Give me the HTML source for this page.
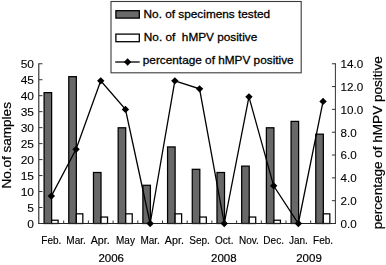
<!DOCTYPE html>
<html><head><meta charset="utf-8"><style>
html,body{margin:0;padding:0;background:#fff;}
svg{display:block;filter:blur(0.3px);}
text{font-family:"Liberation Sans",sans-serif;fill:#000;stroke:#000;stroke-width:0.3px;}
.t{font-size:11px;stroke-width:0.1px;}
.m{font-size:10px;stroke-width:0.15px;}
.y{font-size:11.5px;stroke-width:0.2px;}
.l{font-size:11.8px;}
.at{font-size:12px;stroke-width:0.2px;}
.at2{font-size:12px;stroke-width:0.2px;}
</style></head><body>
<svg width="386" height="265" viewBox="0 0 386 265">
<rect x="44.08" y="92.63" width="7.55" height="130.87" fill="#686868" stroke="#000" stroke-width="1.25"/>
<rect x="51.62" y="220.23" width="6.50" height="3.27" fill="#fff" stroke="#000" stroke-width="1.25"/>
<rect x="68.77" y="76.66" width="7.55" height="146.84" fill="#686868" stroke="#000" stroke-width="1.25"/>
<rect x="76.33" y="213.84" width="6.50" height="9.66" fill="#fff" stroke="#000" stroke-width="1.25"/>
<rect x="93.47" y="172.50" width="7.55" height="51.00" fill="#686868" stroke="#000" stroke-width="1.25"/>
<rect x="101.03" y="217.04" width="6.50" height="6.46" fill="#fff" stroke="#000" stroke-width="1.25"/>
<rect x="118.17" y="127.78" width="7.55" height="95.72" fill="#686868" stroke="#000" stroke-width="1.25"/>
<rect x="125.73" y="213.84" width="6.50" height="9.66" fill="#fff" stroke="#000" stroke-width="1.25"/>
<rect x="142.87" y="185.28" width="7.55" height="38.22" fill="#686868" stroke="#000" stroke-width="1.25"/>
<rect x="167.57" y="146.94" width="7.55" height="76.56" fill="#686868" stroke="#000" stroke-width="1.25"/>
<rect x="175.12" y="213.84" width="6.50" height="9.66" fill="#fff" stroke="#000" stroke-width="1.25"/>
<rect x="192.27" y="169.31" width="7.55" height="54.19" fill="#686868" stroke="#000" stroke-width="1.25"/>
<rect x="199.82" y="217.04" width="6.50" height="6.46" fill="#fff" stroke="#000" stroke-width="1.25"/>
<rect x="216.97" y="172.50" width="7.55" height="51.00" fill="#686868" stroke="#000" stroke-width="1.25"/>
<rect x="241.67" y="166.12" width="7.55" height="57.38" fill="#686868" stroke="#000" stroke-width="1.25"/>
<rect x="249.22" y="217.04" width="6.50" height="6.46" fill="#fff" stroke="#000" stroke-width="1.25"/>
<rect x="266.38" y="127.78" width="7.55" height="95.72" fill="#686868" stroke="#000" stroke-width="1.25"/>
<rect x="273.92" y="220.23" width="6.50" height="3.27" fill="#fff" stroke="#000" stroke-width="1.25"/>
<rect x="291.07" y="121.39" width="7.55" height="102.11" fill="#686868" stroke="#000" stroke-width="1.25"/>
<rect x="315.78" y="134.17" width="7.55" height="89.33" fill="#686868" stroke="#000" stroke-width="1.25"/>
<rect x="323.32" y="213.84" width="6.50" height="9.66" fill="#fff" stroke="#000" stroke-width="1.25"/>
<line x1="38.8" y1="63.25" x2="38.8" y2="223.5" stroke="#222" stroke-width="1.1"/>
<line x1="335.4" y1="63.25" x2="335.4" y2="223.5" stroke="#333" stroke-width="1"/>
<line x1="38.25" y1="223.5" x2="335.95" y2="223.5" stroke="#222" stroke-width="1.1"/>
<line x1="39.0" y1="223.50" x2="42.5" y2="223.50" stroke="#333" stroke-width="1"/>
<text transform="translate(34.00,227.80) scale(1.09,1)" text-anchor="end" class="t">0</text>
<line x1="39.0" y1="207.53" x2="42.5" y2="207.53" stroke="#333" stroke-width="1"/>
<text transform="translate(34.00,211.83) scale(1.09,1)" text-anchor="end" class="t">5</text>
<line x1="39.0" y1="191.55" x2="42.5" y2="191.55" stroke="#333" stroke-width="1"/>
<text transform="translate(34.00,195.85) scale(1.09,1)" text-anchor="end" class="t">10</text>
<line x1="39.0" y1="175.57" x2="42.5" y2="175.57" stroke="#333" stroke-width="1"/>
<text transform="translate(34.00,179.88) scale(1.09,1)" text-anchor="end" class="t">15</text>
<line x1="39.0" y1="159.60" x2="42.5" y2="159.60" stroke="#333" stroke-width="1"/>
<text transform="translate(34.00,163.90) scale(1.09,1)" text-anchor="end" class="t">20</text>
<line x1="39.0" y1="143.62" x2="42.5" y2="143.62" stroke="#333" stroke-width="1"/>
<text transform="translate(34.00,147.93) scale(1.09,1)" text-anchor="end" class="t">25</text>
<line x1="39.0" y1="127.65" x2="42.5" y2="127.65" stroke="#333" stroke-width="1"/>
<text transform="translate(34.00,131.95) scale(1.09,1)" text-anchor="end" class="t">30</text>
<line x1="39.0" y1="111.67" x2="42.5" y2="111.67" stroke="#333" stroke-width="1"/>
<text transform="translate(34.00,115.97) scale(1.09,1)" text-anchor="end" class="t">35</text>
<line x1="39.0" y1="95.70" x2="42.5" y2="95.70" stroke="#333" stroke-width="1"/>
<text transform="translate(34.00,100.00) scale(1.09,1)" text-anchor="end" class="t">40</text>
<line x1="39.0" y1="79.72" x2="42.5" y2="79.72" stroke="#333" stroke-width="1"/>
<text transform="translate(34.00,84.02) scale(1.09,1)" text-anchor="end" class="t">45</text>
<line x1="39.0" y1="63.75" x2="42.5" y2="63.75" stroke="#333" stroke-width="1"/>
<text transform="translate(34.00,68.05) scale(1.09,1)" text-anchor="end" class="t">50</text>
<line x1="331.9" y1="223.50" x2="335.4" y2="223.50" stroke="#333" stroke-width="1"/>
<text transform="translate(340.60,227.80) scale(1.06,1)" class="t">0.0</text>
<line x1="331.9" y1="200.68" x2="335.4" y2="200.68" stroke="#333" stroke-width="1"/>
<text transform="translate(340.60,204.98) scale(1.06,1)" class="t">2.0</text>
<line x1="331.9" y1="177.86" x2="335.4" y2="177.86" stroke="#333" stroke-width="1"/>
<text transform="translate(340.60,182.16) scale(1.06,1)" class="t">4.0</text>
<line x1="331.9" y1="155.04" x2="335.4" y2="155.04" stroke="#333" stroke-width="1"/>
<text transform="translate(340.60,159.34) scale(1.06,1)" class="t">6.0</text>
<line x1="331.9" y1="132.21" x2="335.4" y2="132.21" stroke="#333" stroke-width="1"/>
<text transform="translate(340.60,136.51) scale(1.06,1)" class="t">8.0</text>
<line x1="331.9" y1="109.39" x2="335.4" y2="109.39" stroke="#333" stroke-width="1"/>
<text transform="translate(340.60,113.69) scale(1.06,1)" class="t">10.0</text>
<line x1="331.9" y1="86.57" x2="335.4" y2="86.57" stroke="#333" stroke-width="1"/>
<text transform="translate(340.60,90.87) scale(1.06,1)" class="t">12.0</text>
<line x1="331.9" y1="63.75" x2="335.4" y2="63.75" stroke="#333" stroke-width="1"/>
<text transform="translate(340.60,68.05) scale(1.06,1)" class="t">14.0</text>
<line x1="63.70" y1="220.5" x2="63.70" y2="223.5" stroke="#333" stroke-width="1"/>
<line x1="88.40" y1="220.5" x2="88.40" y2="223.5" stroke="#333" stroke-width="1"/>
<line x1="113.10" y1="220.5" x2="113.10" y2="223.5" stroke="#333" stroke-width="1"/>
<line x1="137.80" y1="220.5" x2="137.80" y2="223.5" stroke="#333" stroke-width="1"/>
<line x1="162.50" y1="220.5" x2="162.50" y2="223.5" stroke="#333" stroke-width="1"/>
<line x1="187.20" y1="220.5" x2="187.20" y2="223.5" stroke="#333" stroke-width="1"/>
<line x1="211.90" y1="220.5" x2="211.90" y2="223.5" stroke="#333" stroke-width="1"/>
<line x1="236.60" y1="220.5" x2="236.60" y2="223.5" stroke="#333" stroke-width="1"/>
<line x1="261.30" y1="220.5" x2="261.30" y2="223.5" stroke="#333" stroke-width="1"/>
<line x1="286.00" y1="220.5" x2="286.00" y2="223.5" stroke="#333" stroke-width="1"/>
<line x1="310.70" y1="220.5" x2="310.70" y2="223.5" stroke="#333" stroke-width="1"/>
<text transform="translate(51.35,244.0) scale(1.0,1)" text-anchor="middle" class="m">Feb.</text>
<text transform="translate(76.05,244.0) scale(1.0,1)" text-anchor="middle" class="m">Mar.</text>
<text transform="translate(100.25,244.0) scale(1.07,1)" text-anchor="middle" class="m">Apr.</text>
<text transform="translate(125.45,244.0) scale(1.0,1)" text-anchor="middle" class="m">May</text>
<text transform="translate(150.15,244.0) scale(1.0,1)" text-anchor="middle" class="m">Mar.</text>
<text transform="translate(174.35,244.0) scale(1.07,1)" text-anchor="middle" class="m">Apr.</text>
<text transform="translate(199.55,244.0) scale(1.0,1)" text-anchor="middle" class="m">Sep.</text>
<text transform="translate(224.25,244.0) scale(1.0,1)" text-anchor="middle" class="m">Oct.</text>
<text transform="translate(248.95,244.0) scale(1.0,1)" text-anchor="middle" class="m">Nov.</text>
<text transform="translate(273.65,244.0) scale(1.0,1)" text-anchor="middle" class="m">Dec.</text>
<text transform="translate(298.35,244.0) scale(1.0,1)" text-anchor="middle" class="m">Jan.</text>
<text transform="translate(323.05,244.0) scale(1.0,1)" text-anchor="middle" class="m">Feb.</text>
<text x="111.2" y="262" text-anchor="middle" class="y">2006</text>
<text x="223.8" y="262" text-anchor="middle" class="y">2008</text>
<text x="309" y="262" text-anchor="middle" class="y">2009</text>
<polyline fill="none" stroke="#000" stroke-width="1.3" points="51.35,196.11 76.05,149.33 100.75,80.87 125.45,109.39 150.15,223.50 174.85,80.87 199.55,88.85 224.25,223.50 248.95,96.84 273.65,185.84 298.35,223.50 323.05,101.41"/>
<path d="M51.35 192.41L55.05 196.11L51.35 199.81L47.65 196.11Z" fill="#000"/>
<path d="M76.05 145.63L79.75 149.33L76.05 153.03L72.35 149.33Z" fill="#000"/>
<path d="M100.75 77.17L104.45 80.87L100.75 84.57L97.05 80.87Z" fill="#000"/>
<path d="M125.45 105.69L129.15 109.39L125.45 113.09L121.75 109.39Z" fill="#000"/>
<path d="M150.15 219.80L153.85 223.50L150.15 227.20L146.45 223.50Z" fill="#000"/>
<path d="M174.85 77.17L178.55 80.87L174.85 84.57L171.15 80.87Z" fill="#000"/>
<path d="M199.55 85.15L203.25 88.85L199.55 92.55L195.85 88.85Z" fill="#000"/>
<path d="M224.25 219.80L227.95 223.50L224.25 227.20L220.55 223.50Z" fill="#000"/>
<path d="M248.95 93.14L252.65 96.84L248.95 100.54L245.25 96.84Z" fill="#000"/>
<path d="M273.65 182.14L277.35 185.84L273.65 189.54L269.95 185.84Z" fill="#000"/>
<path d="M298.35 219.80L302.05 223.50L298.35 227.20L294.65 223.50Z" fill="#000"/>
<path d="M323.05 97.71L326.75 101.41L323.05 105.11L319.35 101.41Z" fill="#000"/>
<text transform="translate(11.3,188.6) rotate(-90)" class="at" textLength="86.5" lengthAdjust="spacingAndGlyphs">No.of samples</text>
<text transform="translate(381.9,229.2) rotate(-90)" class="at2" textLength="173" lengthAdjust="spacingAndGlyphs">percentage of hMPV positive</text>
<rect x="111" y="1.5" width="190.2" height="71.3" fill="#fff" stroke="#3a3a3a" stroke-width="1.1"/>
<rect x="115.9" y="10.7" width="23.4" height="7.4" fill="#6a6a6a" stroke="#000" stroke-width="1.3"/>
<text x="143.6" y="18" class="l">No. of specimens tested</text>
<rect x="115.9" y="34.1" width="23.4" height="7.6" fill="#fff" stroke="#000" stroke-width="1.3"/>
<text x="143.8" y="41.4" class="l" xml:space="preserve">No. of  hMPV positive</text>
<line x1="115.2" y1="62" x2="139.7" y2="62" stroke="#000" stroke-width="1.3"/>
<path d="M127.60 58.30L131.30 62.00L127.60 65.70L123.90 62.00Z" fill="#000"/>
<text x="142.8" y="63.6" class="l">percentage of hMPV positive</text>
</svg>
</body></html>
